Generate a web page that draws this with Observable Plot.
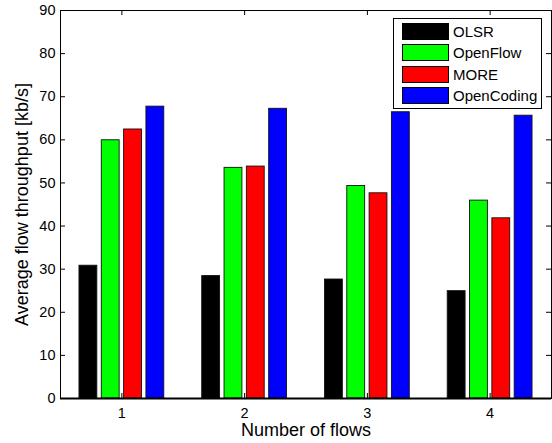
<!DOCTYPE html>
<html>
<head>
<meta charset="utf-8">
<script src="https://cdn.jsdelivr.net/npm/d3@7"></script>
<script src="https://cdn.jsdelivr.net/npm/@observablehq/plot@0.6"></script>
<style>
  body { margin: 0; background: #fff; }
  #wrap { position: relative; width: 552px; height: 443px; background: #fff; }
  #legend { position: absolute; left: 393px; top: 18px; width: 147px; height: 89px;
    border: 1px solid #000; background: #fff;
    font-family: "Liberation Sans", Arial, sans-serif; font-size: 15px; color: #000; }
  .row { position: absolute; left: 8px; height: 17px; display: flex; align-items: center; white-space: nowrap; }
  .sw { width: 47px; height: 17px; box-sizing: border-box; border: 1px solid #000; margin-right: 4px; }
</style>
</head>
<body>
<div id="wrap"><div id="chart"></div><div id="legend"></div></div>
<script>
// ---- data ----
const flows = [1, 2, 3, 4];
const seriesNames = ["OLSR", "OpenFlow", "MORE", "OpenCoding"];
const seriesColors = ["#000000", "#00ff00", "#ff0000", "#0000ff"];
const olsr = [30.8, 28.4, 27.6, 24.9];
const openflow = [59.9, 53.5, 49.3, 45.9];
const more = [62.4, 53.8, 47.6, 41.8];
const opencoding = [67.7, 67.2, 66.4, 65.6];
const yTicks = [0, 10, 20, 30, 40, 50, 60, 70, 80, 90];
const xLabel = "Number of flows";
const yLabel = "Average flow throughput [kb/s]";

// ---- build table ----
const seriesValues = [olsr, openflow, more, opencoding];
const rows = [];
seriesNames.forEach((s, i) => flows.forEach((f, j) =>
  rows.push({flow: f, series: s, idx: i, value: seriesValues[i][j]})));

// MATLAB grouped-bar geometry (in data units)
const nS = seriesNames.length;
const groupWidth = Math.min(0.8, nS / (nS + 1.5));
const pitch = groupWidth / nS;
const barW = pitch * 0.8;

const W = 552, H = 443, mL = 60, mR = 1, mT = 10, mB = 45;
const plotW = W - mL - mR, plotH = H - mT - mB;
const font = "'Liberation Sans', Arial, sans-serif";

const chart = Plot.plot({
  width: W, height: H,
  marginLeft: mL, marginRight: mR, marginTop: mT, marginBottom: mB,
  style: {fontFamily: font, fontSize: "14.5px", color: "#000", background: "#fff"},
  x: {type: "linear", domain: [0.5, 4.5]},
  y: {domain: [0, 90]},
  color: {domain: seriesNames, range: seriesColors},
  marks: [
    Plot.rect(rows, {
      x1: d => d.flow + (d.idx - (nS - 1) / 2) * pitch - barW / 2,
      x2: d => d.flow + (d.idx - (nS - 1) / 2) * pitch + barW / 2,
      y1: 0, y2: "value",
      fill: "series", stroke: "#111", strokeWidth: 0.9
    }),
    Plot.frame({stroke: "#000", strokeWidth: 1}),
    Plot.ruleY([0], {stroke: "#000", strokeWidth: 2}),
    Plot.tickX(flows, {x: d => d, insetTop: plotH - 5, stroke: "#000"}),
    Plot.tickX(flows, {x: d => d, insetBottom: plotH - 5, stroke: "#000"}),
    Plot.tickY(yTicks, {y: d => d, insetRight: plotW - 5, stroke: "#000"}),
    Plot.tickY(yTicks, {y: d => d, insetLeft: plotW - 5, stroke: "#000"}),
    Plot.axisX(flows, {tickSize: 0, tickPadding: 9, label: null, fontSize: 14.5, tickFormat: d3.format("d")}),
    Plot.axisY(yTicks, {tickSize: 0, tickPadding: 5, label: null, fontSize: 14.5, tickFormat: d3.format("d")}),
    Plot.text([xLabel], {text: d => d, frameAnchor: "bottom", textAnchor: "middle", lineAnchor: "middle",
      dy: 32, fontSize: 18, fill: "#000"}),
    Plot.text([yLabel], {text: d => d, frameAnchor: "left", textAnchor: "middle", lineAnchor: "middle",
      rotate: -90, dx: -38, fontSize: 18, fill: "#000"})
  ]
});
document.getElementById("chart").appendChild(chart);

// ---- legend ----
const legend = d3.select("#legend");
seriesNames.forEach((s, i) => {
  const r = legend.append("div").attr("class", "row").style("top", (4 + i * 21.3) + "px");
  r.append("div").attr("class", "sw").style("background", seriesColors[i]);
  r.append("span").text(s);
});
</script>
</body>
</html>
